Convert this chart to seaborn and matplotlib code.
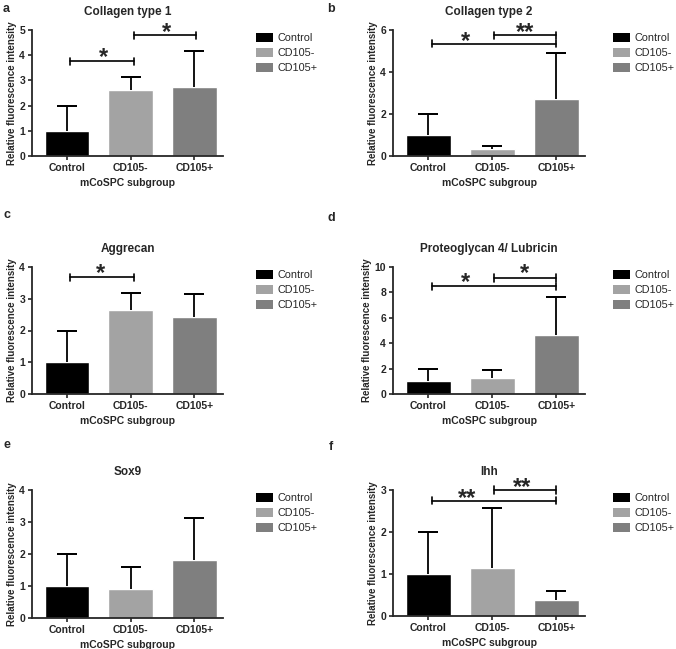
import matplotlib
matplotlib.use('Agg')
import matplotlib.pyplot as plt
from matplotlib.patches import Patch
import seaborn as sns
import pandas as pd

sns.set_style('ticks')
plt.rcParams['font.family'] = ['Liberation Sans', 'DejaVu Sans']

# Data
groups = ['Control', 'CD105-', 'CD105+']
colors = ['#000000', '#a3a3a3', '#7f7f7f']

titles = ['Collagen type 1', 'Collagen type 2', 'Aggrecan',
          'Proteoglycan 4/ Lubricin', 'Sox9', 'Ihh']
letters = ['a', 'b', 'c', 'd', 'e', 'f']

col1_mean = [1.0, 2.6, 2.75]
col1_sd = [1.0, 0.52, 1.4]
col2_mean = [1.02, 0.33, 2.72]
col2_sd = [0.98, 0.16, 2.17]
agg_mean = [1.0, 2.64, 2.42]
agg_sd = [1.0, 0.54, 0.73]
prg4_mean = [1.0, 1.24, 4.66]
prg4_sd = [0.95, 0.65, 2.97]
sox9_mean = [1.0, 0.92, 1.82]
sox9_sd = [1.0, 0.68, 1.31]
ihh_mean = [1.0, 1.14, 0.37]
ihh_sd = [1.0, 1.44, 0.23]

means = [col1_mean, col2_mean, agg_mean, prg4_mean, sox9_mean, ihh_mean]
sds = [col1_sd, col2_sd, agg_sd, prg4_sd, sox9_sd, ihh_sd]
ymax = [5, 6, 4, 10, 4, 3]
ystep = [1, 2, 1, 2, 1, 1]

# significance brackets: (start, end, height, label, label x, label centre y)
sig = [
    [(0.05, 1.05, 3.75, '*', 0.57, 4.06), (1.05, 2.02, 4.8, '*', 1.57, 5.05)],
    [(0.06, 2.0, 5.35, '*', 0.59, 5.66), (1.03, 2.0, 5.76, '**', 1.51, 6.06)],
    [(0.05, 1.05, 3.68, '*', 0.52, 3.92)],
    [(0.06, 2.0, 8.47, '*', 0.59, 9.13), (1.03, 2.0, 9.13, '*', 1.5, 9.79)],
    [],
    [(0.06, 2.0, 2.74, '**', 0.6, 2.9), (1.03, 2.0, 3.0, '**', 1.46, 3.16)],
]

W, H = 676, 649
# axes boxes in pixels: left, top, right, bottom
boxes = [(32, 30, 223, 156), (393, 30, 585, 156),
         (32, 267, 223, 394), (393, 267, 585, 394),
         (32, 490, 223, 618), (393, 490, 585, 616)]
legend_x = [256, 613, 256, 613, 256, 613]
letter_pos = [(3, 9), (327, 9), (3, 215), (327, 218), (3, 445), (329, 447)]

STAR_FS = 17

fig = plt.figure(figsize=(W / 100, H / 100), dpi=100)

for i in range(6):
    l, t, r, b = boxes[i]
    ax = fig.add_axes([l / W, 1 - b / H, (r - l) / W, (b - t) / H])
    df = pd.DataFrame({'group': groups, 'value': means[i]})
    sns.barplot(data=df, x='group', y='value', hue='group', palette=colors,
                order=groups, hue_order=groups, width=0.7, errorbar=None,
                legend=False, saturation=1, ax=ax)
    # upper error bars only
    tops = [m + s for m, s in zip(means[i], sds[i])]
    ax.vlines(range(3), means[i], tops, color='black', lw=1.3, zorder=3)
    ax.errorbar(range(3), tops, fmt='none', yerr=0, ecolor='black',
                capsize=7.5, capthick=1.3, elinewidth=0, zorder=3)
    for (x0, x1, h, lab, lx, ly) in sig[i]:
        d = ymax[i] * 0.028
        ax.plot([x0, x1], [h, h], color='black', lw=1.2, clip_on=False)
        ax.plot([x0, x0], [h - d, h + d], color='black', lw=1.2, clip_on=False)
        ax.plot([x1, x1], [h - d, h + d], color='black', lw=1.2, clip_on=False)
        ax.annotate(lab, xy=(lx, ly), xytext=(0, -0.45 * STAR_FS),
                    textcoords='offset points', ha='center', va='baseline',
                    fontsize=STAR_FS, fontweight='bold', annotation_clip=False)
    ax.set_ylim(0, ymax[i])
    ax.set_yticks(range(0, ymax[i] + 1, ystep[i]))
    ax.set_xlim(-0.55, 2.45)
    sns.despine(ax=ax)
    for s in ['left', 'bottom']:
        ax.spines[s].set_linewidth(1.3)
    ax.tick_params(axis='both', width=1.2, length=3, labelsize=7.5, pad=2)
    for lab in ax.get_xticklabels() + ax.get_yticklabels():
        lab.set_fontweight('bold')
    ax.set_title(titles[i], fontsize=8.5, fontweight='bold', pad=11)
    ax.set_xlabel('mCoSPC subgroup', fontsize=7.5, fontweight='bold', labelpad=4)
    ax.set_ylabel('Relative fluorescence intensity', fontsize=7,
                  fontweight='bold', labelpad=2)
    handles = [Patch(facecolor=c, edgecolor='none') for c in colors]
    ax.legend(handles, groups, loc='upper left', frameon=False,
              bbox_to_anchor=(legend_x[i] / W, 1 - (t + 3) / H),
              bbox_transform=fig.transFigure, borderaxespad=0, borderpad=0,
              fontsize=7.8, handlelength=1.6, handleheight=0.9,
              handletextpad=0.35, labelspacing=0.45)
    lx, ly = letter_pos[i]
    fig.text(lx / W, 1 - ly / H, letters[i], fontsize=9, fontweight='bold',
             va='center', ha='left')

fig.savefig('out.png', dpi=100)
